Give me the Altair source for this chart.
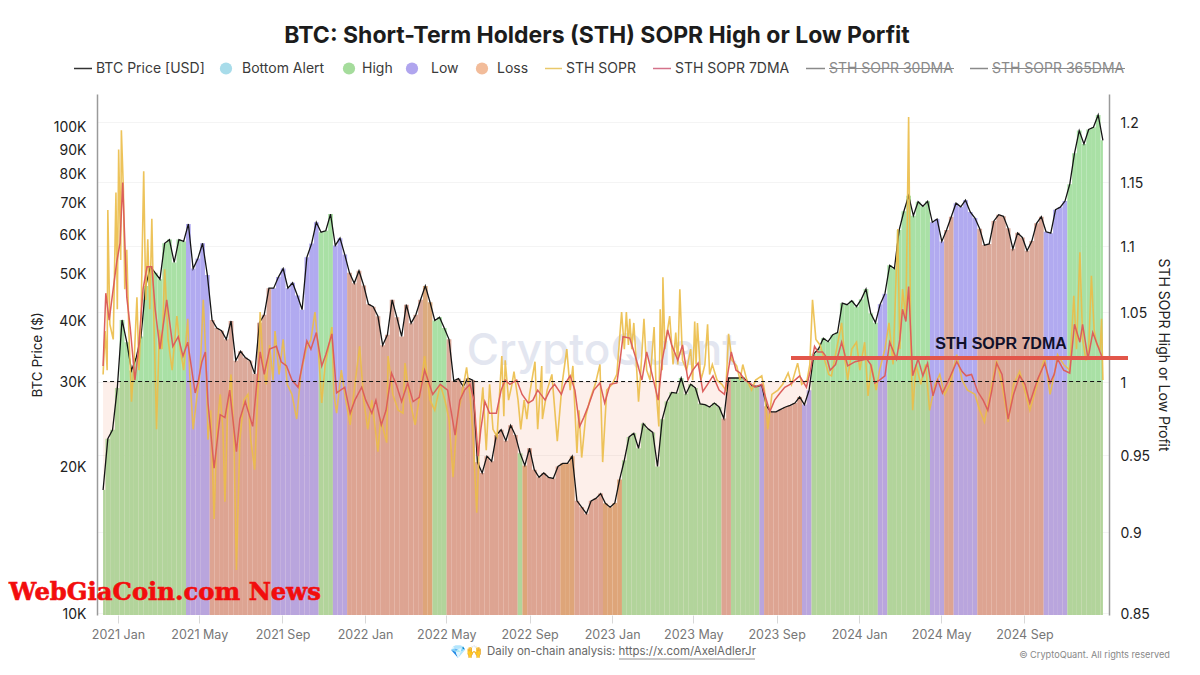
import altair as alt
import pandas as pd

# ---- data ----
BASE = pd.Timestamp("2021-01-01")

# weekly BTC price, first sample 2020-12-10
price_start_day = -22
price_values = [
 17900,22800,23800,29000,
 40000,36000,31500,33500,37000,47000,51500,50000,48500,57500,58500,52500,58500,58000,63000,51000,53500,57500,49500,40000,
 38500,38000,36500,39800,33000,34500,33500,33000,31000,39500,41000,46500,46500,49000,51000,46500,47700,44900,42000,53800,57400,63500,
 60600,61000,66000,56900,58900,54500,50000,47600,50500,47100,
 43100,42600,40700,35500,37300,44000,40500,37000,43000,39400,41000,44000,47000,43500,39900,40500,38500,36500,30000,30300,
 29200,30400,30100,20400,19400,21000,20500,23200,23800,22600,24300,23200,21300,20100,21800,19700,19000,19400,19000,18900,20000,20300,
 20300,21000,17000,16500,16000,17000,17200,17600,16800,16500,
 16830,18800,20600,23000,23400,21800,24500,23900,23500,20000,25000,27200,28400,28300,30400,28200,29500,29000,26900,26800,26500,27000,
 26500,25100,30400,30400,30400,30500,29900,29300,29200,29400,26600,25900,25900,26200,26500,26700,27000,27800,26800,28700,34100,34900,
 36700,36100,37300,37700,43300,43000,43800,42600,
 44100,46300,41300,39500,43100,45300,51800,51000,61200,66900,72000,65500,70000,68500,70100,63500,64500,58000,61200,65200,69500,68300,
 70500,66700,64800,61600,57000,57300,63900,65800,65300,61700,56000,60400,59100,55500,58100,63200,65200,60700,60300,67400,68200,70200,
 76000,88000,98000,92000,98500,99500,105500,93600,
]

# regime bands: band ends on this day, with the regime name
band_end_days = [101,138,224,297,320,341,448,463,483,591,596,604,655,677,716,744,895,904,945,957,1010,1026,1120,1139,1199,1224,1233,1273,1316,1366,1402,1460]
band_names = ["High","Low","Loss","Low","High","Low","Loss","Orange","High","Loss","High","Orange","Loss","Orange","Loss","Orange",
              "High","Loss","High","Low","Loss","Low","High","Low","High","Low","Loss","Low","Loss","Loss","Low","High"]

ma7_days = [-22,-18,-13,-2,3,7,13,18,25,30,37,43,50,55,62,72,81,89,96,103,114,118,124,129,133,142,151,158,165,175,180,188,199,207,210,216,224,234,241,249,257,266,279,285,293,301,307,316,323,335,343,350,360,366,375,381,389,396,404,411,419,428,436,445,453,465,476,487,498,505,512,520,526,532,536,542,549,559,566,572,579,589,597,606,613,620,631,638,645,655,660,668,675,682,688,694,703,712,719,727,737,742,746,756,766,774,781,789,798,804,812,818,827,834,842,849,857,864,871,879,888,896,906,913,919,926,933,941,951,963,970,978,985,993,1000,1007,1017,1023,1029,1034,1041,1047,1052,1060,1069,1078,1089,1106,1112,1118,1125,1133,1140,1150,1155,1159,1164,1168,1174,1182,1189,1196,1204,1211,1218,1229,1239,1247,1253,1261,1270,1278,1285,1291,1298,1306,1315,1323,1332,1340,1347,1358,1369,1377,1383,1388,1397,1406,1413,1421,1425,1433,1440,1447,1453]
ma7_values = [1.011,1.064,1.044,1.087,1.102,1.150,1.061,1.039,1.001,1.021,1.067,1.084,1.084,1.052,1.023,1.059,1.025,1.032,1.018,1.028,.992,.999,1.014,1.021,.985,.941,.977,.975,.994,.952,.974,.986,.969,1.008,1.021,1.005,1.023,1.025,1.014,1.011,1.001,.996,1.029,1.023,1.035,1.011,1.019,1.034,.992,.996,.978,.987,.996,.987,.978,.987,.970,.98,1.006,.998,.986,.999,.986,.989,1.008,.991,.998,.994,.963,.987,.994,.998,.987,.949,.967,.986,.978,.978,.994,1.001,.998,1.001,.991,.985,.987,.994,.987,.994,.998,.991,.998,1.004,.994,.969,.975,.982,.994,.999,.985,.998,.999,1.016,1.032,1.031,1.015,1.001,1.021,1.005,.987,1.015,1.037,1.026,1.015,1.026,1.001,1.008,1.013,.993,.998,1.004,.994,.991,1.021,1.008,1.006,1.001,.999,.996,.998,.979,.987,.992,.996,.998,1.001,1.004,.996,1.008,1.025,1.021,1.021,1.017,1.008,1.012,1.028,1.011,1.014,1.016,1.012,.999,1.001,1.004,1.028,1.016,1.03,1.052,1.043,1.069,1.004,1.016,1.004,1.013,.99,1.001,.992,1.003,1.014,1.007,1.004,1.005,.993,.987,.98,.994,1.013,1.005,.974,.991,1.004,.998,.985,1.001,1.013,.999,1.005,1.016,1.008,1.006,1.041,1.028,1.041,1.016,1.035,1.026,1.018]

raw_days = [-22,-19,-16,-15,-12,-7,-3,-1,1,4,5,8,10,13,16,20,24,28,31,34,38,41,44,47,50,53,57,61,65,69,74,80,87,92,97,103,106,111,117,121,126,130,133,137,142,146,151,155,158,162,167,171,175,180,186,192,196,202,207,210,214,219,224,229,232,238,244,250,257,264,270,278,285,291,296,301,306,312,316,319,323,330,335,343,350,357,363,369,375,384,388,397,399,406,414,421,424,431,439,446,453,461,468,476,483,489,495,501,508,515,520,524,530,535,539,544,549,554,560,567,570,572,577,582,585,591,595,600,604,608,616,620,626,627,634,641,649,656,663,668,672,678,681,685,691,697,705,712,716,722,730,737,744,748,751,754,756,759,762,765,769,772,777,781,786,792,795,799,801,804,805,808,811,815,820,824,827,830,834,840,846,849,852,854,856,861,864,867,871,874,878,885,892,898,902,907,914,919,923,929,936,942,951,955,960,966,975,982,990,995,1004,1010,1018,1022,1026,1031,1037,1044,1050,1054,1060,1069,1074,1078,1084,1091,1096,1103,1108,1113,1120,1125,1133,1139,1145,1152,1155,1159,1164,1168,1171,1174,1179,1186,1193,1199,1207,1214,1221,1229,1239,1247,1255,1266,1273,1280,1288,1298,1306,1315,1323,1332,1341,1347,1358,1369,1377,1384,1388,1397,1406,1412,1416,1421,1425,1430,1434,1438,1442,1446,1451,1453,1455]
raw_values = [1.005,1.036,1.008,1.128,1.041,1.03,1.142,1.052,1.177,1.089,1.193,1.144,1.067,1.097,1.037,.986,1.016,1.061,1.008,1.045,1.159,1.059,1.105,1.052,1.121,1.045,.967,1.037,1.023,1.082,1.03,1.008,1.047,1.023,1.008,1.045,1.005,.967,.991,1.005,1.059,1.015,.96,.98,.908,.967,.991,.967,.919,.98,1.005,.967,.876,.96,.987,.991,.96,.94,.998,1.05,1.015,.998,1.026,1.001,1.036,1.005,1.03,.998,.991,.974,1.005,1.023,1.03,1.05,1.023,.985,1.012,1.026,1.039,.991,.978,1.008,.991,.97,.998,1.025,.987,.967,.987,.952,.974,.958,1.018,.991,.98,.978,1.013,.987,.97,.991,1.018,.987,.98,.998,.987,.974,.935,.974,.991,1.01,.991,.967,.912,.974,.996,.953,.998,.967,.962,1.018,.976,1.015,.987,.998,1.007,.987,.967,.987,.974,.991,1.014,.967,1.011,.974,.994,1.005,.959,.998,1.023,.994,1.011,.951,.98,.948,.976,.987,.998,1.012,.945,.994,.998,1.005,1.05,1.023,1.05,1.026,1.045,1.023,1.042,1.019,.986,1.005,1.045,1.008,1.001,1.039,.994,.969,1.052,1.008,1.076,1.023,1.034,1.047,1.012,1.035,1.012,1.067,1.015,1.008,1.023,1.001,1.043,1.012,1.042,1.001,1.006,1.012,1.041,1.005,1.012,1.001,.998,.994,1.034,1.015,1.011,1.001,1.012,1.001,.994,1.001,1.004,.994,.967,.991,.994,.998,1.006,.998,1.013,.998,1.001,1.012,1.059,1.03,1.026,1.015,1.005,1.004,1.019,1.042,1.015,1.001,1.023,1.028,1.008,1.028,.99,1.012,.994,1.008,1.023,1.042,1.012,1.113,1.023,1.067,1.045,1.204,1.03,.98,1.012,.998,1.012,.98,.998,1.005,.991,.998,1.019,1.001,.994,.991,.98,.972,.991,1.015,.998,.972,.998,1.007,.991,.98,.998,1.017,.991,1.007,1.019,1.012,1.008,1.062,1.023,1.095,1.03,1.015,1.023,1.077,1.037,1.026,1.023,1.045,1.001]

left_ticks = [10000,20000,30000,40000,50000,60000,70000,80000,90000,100000]
right_ticks = [0.85,0.9,0.95,1,1.05,1.1,1.15,1.2]
sopr_neutral = 1.0
x_tick_years = [2021,2021,2021,2022,2022,2022,2023,2023,2023,2024,2024,2024]
x_tick_months = [1,5,9,1,5,9,1,5,9,1,5,9]

title_text = "BTC: Short-Term Holders (STH) SOPR High or Low Porfit"
legend_names = ["BTC Price [USD]","Bottom Alert","High","Low","Loss","STH SOPR","STH SOPR 7DMA","STH SOPR 30DMA","STH SOPR 365DMA"]

# ---- layout helpers (page pixels -> plot pixels) ----
OX, OY = 97, 94
W, H = 1012, 521
one = pd.DataFrame({"a": [0]})

def d(days):
    return BASE + pd.to_timedelta(days, unit="D")

def txt(s, px, py, **kw):
    return alt.Chart(pd.DataFrame({"label": [s]})).mark_text(**kw).encode(
        x=alt.value(px - OX), y=alt.value(py - OY), text="label:N")

def hline(x1, x2, py, color, width=1.5):
    return alt.Chart(one).mark_rule(color=color, strokeWidth=width).encode(
        x=alt.value(x1 - OX), x2=alt.value(x2 - OX), y=alt.value(py - OY))

def dot(px, py, color):
    return alt.Chart(one).mark_circle(size=150, color=color, opacity=1).encode(
        x=alt.value(px - OX), y=alt.value(py - OY))

# ---- frames ----
price_days = [price_start_day + 7 * i for i in range(len(price_values))]
def regime(day):
    for end, name in zip(band_end_days, band_names):
        if day < end:
            return name
    return band_names[-1]

first_day, last_day = price_days[0], price_days[-1]
price_df = pd.DataFrame({"date": d(pd.Series(price_days)), "price": price_values})
bars_df = pd.DataFrame({
    "from": d(pd.Series([max(first_day, t - 3.5) for t in price_days])),
    "to": d(pd.Series([min(last_day, t + 3.5) for t in price_days])),
    "price": price_values,
    "base": 9906,
    "regime": [regime(t) for t in price_days],
})
ma_df = pd.DataFrame({"date": d(pd.Series(ma7_days)), "v": ma7_values})
raw_df = pd.DataFrame({"date": d(pd.Series(raw_days)), "v": raw_values})
neutral_df = pd.DataFrame({"from": [d(first_day)], "to": [d(last_day)], "v": [sopr_neutral], "low": [0.8488]})

x_scale = alt.Scale(domain=[alt.DateTime(year=2020, month=12, date=1), alt.DateTime(year=2025, month=1, date=4)])
left_scale = alt.Scale(type="log", domain=[9906, 116500], nice=False)
right_scale = alt.Scale(type="log", domain=[0.8488, 1.2237], nice=False)

x_axis = alt.Axis(title=None, format="%Y %b",
                  values=[alt.DateTime(year=y, month=m, date=1) for y, m in zip(x_tick_years, x_tick_months)],
                  grid=False, domain=False,
                  labelColor="#777777", labelFontSize=12.5, labelPadding=5, tickColor="#d8d8d8", tickSize=8, labelOverlap=False)
left_axis = alt.Axis(title="BTC Price ($)", values=left_ticks, labelExpr="datum.value/1000+'K'", grid=False, ticks=False,
                     domainColor="#9a9a9a", domainWidth=1.5, labelColor="#222222", labelFontSize=14, labelPadding=11,
                     labelOffset=1.5, titleColor="#222222", titleFontSize=13.5, titleFontWeight="normal", titlePadding=9)
right_axis = alt.Axis(orient="right", title="STH SOPR High or Low Profit", values=right_ticks, labelExpr="''+datum.value", grid=True,
                      gridColor="#f4f4f4", ticks=False, domainColor="#9a9a9a", domainWidth=1.5, labelColor="#222222",
                      labelFontSize=14, labelPadding=11, labelOffset=1.5, titleColor="#222222", titleFontSize=14,
                      titleFontWeight="normal", titlePadding=6, titleAngle=90)

watermark = txt("CryptoQuant", 602, 352, font="Inter", fontSize=44, fontWeight=500, color="#e3e6f0", align="center")

bars = alt.Chart(bars_df).mark_rect().encode(
    x=alt.X("from:T", scale=x_scale, axis=x_axis),
    x2="to:T",
    y=alt.Y("price:Q", scale=left_scale, axis=left_axis),
    y2="base:Q",
    color=alt.Color("regime:N", legend=None, scale=alt.Scale(
        domain=["High", "Low", "Loss", "Orange"],
        range=["#a9e0a5", "#b1aaf0", "#dba99a", "#dcab7e"])),
)
pink = alt.Chart(neutral_df).mark_rect(color="#f0825a", opacity=0.13).encode(
    x="from:T", x2="to:T",
    y=alt.Y("v:Q", scale=right_scale, axis=right_axis), y2="low:Q")
price_line = alt.Chart(price_df).mark_line(color="#151515", strokeWidth=1.3).encode(
    x="date:T", y=alt.Y("price:Q", scale=left_scale, axis=None))
raw_line = alt.Chart(raw_df).mark_line(color="#ebbd48", strokeWidth=1.6, opacity=0.9).encode(
    x="date:T", y=alt.Y("v:Q", scale=right_scale, axis=None))
ma_line = alt.Chart(ma_df).mark_line(color="#dc5f5c", strokeWidth=1.5).encode(
    x="date:T", y=alt.Y("v:Q", scale=right_scale, axis=None))
neutral_line = alt.Chart(neutral_df).mark_rule(color="#111111", strokeWidth=1, strokeDash=[4, 3]).encode(
    x="from:T", x2="to:T", y=alt.Y("v:Q", scale=right_scale, axis=None))

# legend row
LY = 68.5
leg = dict(font="Inter", fontSize=14, color="#3a3a3a", align="left")
gray = dict(font="Inter", fontSize=14, color="#8a8a8a", align="left")
legend_layers = [
    hline(74, 92, LY, "#333333"), txt(legend_names[0], 96, LY, **leg),
    dot(226, LY, "#a8dcea"), txt(legend_names[1], 242, LY, **leg),
    dot(349, LY, "#a5dc9c"), txt(legend_names[2], 362, LY, **leg),
    dot(412, LY, "#b0a5ee"), txt(legend_names[3], 431, LY, **leg),
    dot(482, LY, "#f2bc9a"), txt(legend_names[4], 497, LY, **leg),
    hline(545, 562, LY, "#e9c86a"), txt(legend_names[5], 566, LY, **leg),
    hline(653, 671, LY, "#d4728a"), txt(legend_names[6], 675, LY, **leg),
    hline(806, 825, LY, "#8a8a8a"), txt(legend_names[7], 829, LY, **gray),
    hline(829, 954, LY, "#8a8a8a", 1),
    hline(970, 988, LY, "#8a8a8a"), txt(legend_names[8], 992, LY, **gray),
    hline(992, 1125, LY, "#8a8a8a", 1),
]

annotation = [
    hline(791, 1128, 358, "#e2564a", 4),
    txt("STH SOPR 7DMA", 1001, 344, font="Liberation Sans", fontSize=16, fontWeight="bold", color="#10102a", align="center"),
]
brand = txt("WebGiaCoin.com News", 165, 593, font="DejaVu Serif", fontSize=24.3, fontWeight="bold",
            color="#f20d0d", stroke="#f20d0d", strokeWidth=0.6, align="center")
footer = [
    txt("💎🙌", 466, 652, fontSize=13, align="center"),
    txt("Daily on-chain analysis: https://x.com/AxelAdlerJr", 487, 652, font="Inter", fontSize=11.45, color="#666666", align="left"),
    hline(619, 755, 659, "#777777", 0.8),
    txt("© CryptoQuant. All rights reserved", 1170, 655, font="Inter", fontSize=9.2, color="#888888", align="right"),
]

chart = alt.layer(
    watermark, bars, pink, price_line, raw_line, ma_line, neutral_line,
    *legend_layers, *annotation, brand, *footer,
).resolve_scale(y="independent").properties(
    width=W, height=H,
    title=alt.TitleParams(title_text, font="Inter", fontSize=23, fontWeight="bold", color="#1c1c1c",
                          anchor="middle", offset=14, dx=-6),
    padding={"left": 89, "top": 86, "right": 83, "bottom": 52},
    autosize=alt.AutoSizeParams(type="none"),
).configure(font="Inter", background="white").configure_view(stroke=None)

chart.save("out.html", embed_options={"renderer": "svg", "actions": False})
